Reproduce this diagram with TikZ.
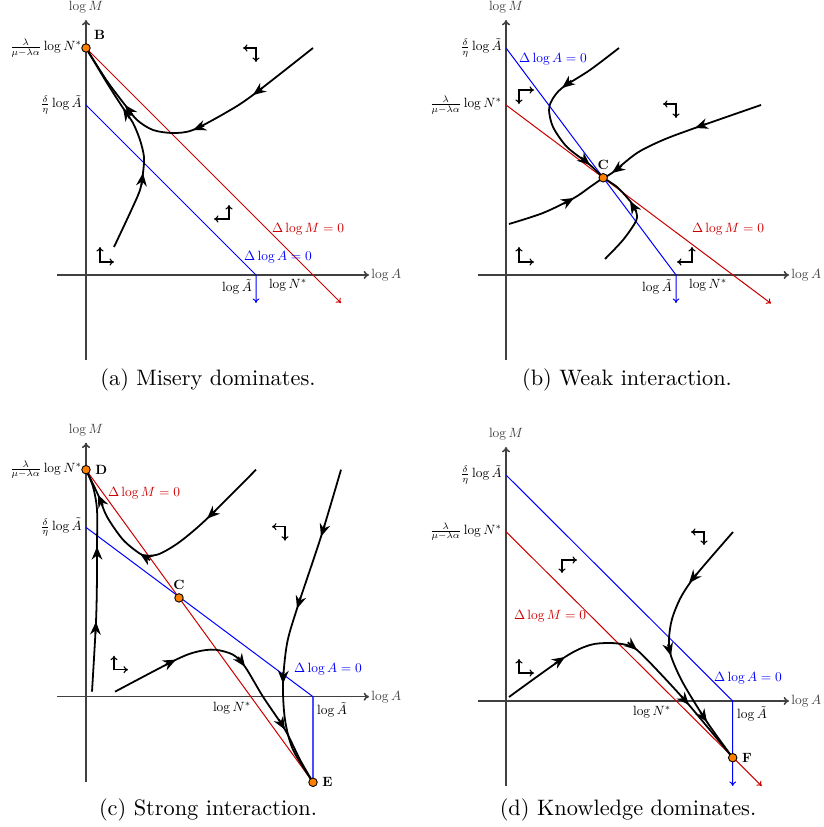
\documentclass[tikz,border=0pt]{standalone}
\usepackage{amsmath}
\usetikzlibrary{arrows.meta,positioning}

\begin{document}
\begin{tikzpicture}[x=0.4476pt, y=0.4476pt, >=Latex]

\tikzset{
  axis/.style={-{To[length=2.4pt,width=3.6pt]}, line width=0.7pt, black!75},
  nullM/.style={red!80!black, line width=0.45pt},
  nullA/.style={blue, line width=0.45pt},
  endtip/.style={-{To[length=2pt,width=3pt]}},
  traj/.style={line width=0.8pt, black},
  flowtip/.style={-{Stealth[length=5.8pt,width=4.8pt,inset=1.9pt]}, line width=0.8pt},
  dirmark/.style={{To[length=2pt,width=3.2pt]}-{To[length=2pt,width=3.2pt]}, line width=0.5pt},
  eqpt/.style={circle, draw=black, fill=orange, line width=0.4pt, inner sep=0pt, minimum size=3.8pt},
  lbl/.style={font=\normalsize, scale=0.6, inner sep=1.5pt},
  ptlbl/.style={font=\normalsize\bfseries, scale=0.6, inner sep=0pt},
  subcap/.style={font=\normalsize, inner sep=0pt}
}

\useasboundingbox (0,0) rectangle (823,827);

% =========================================================
% (a) Misery dominates
% =========================================================
\begin{scope}[shift={(86,552)}]
  \coordinate (B) at (0,227);
  \draw[axis] (-29,0) -- (283,0) node[lbl, anchor=west] (xa) {$\log A$};
  \draw[axis] (0,-85) -- (0,255) node[lbl, above=2pt] (ya) {$\log M$};

  \draw[nullM, endtip] (B) -- (255,-28);
  \draw[nullA, endtip] (0,170) -- (170,0) -- (170,-28);

  \node[lbl, anchor=east] (na) at (-2,227) {$\frac{\lambda}{\mu-\lambda\alpha}\log N^*$};
  \node[lbl, anchor=east] (ta) at (-2,170) {$\frac{\delta}{\eta}\log\tilde{A}$};
  \node[lbl] (tla) at (151,-12) {$\log\tilde{A}$};
  \node[lbl] (nla) at (202,-10) {$\log N^*$};
  \node[lbl, text=red!80!black] (ma) at (222,46) {$\Delta\log M=0$};
  \node[lbl, text=blue] (aa) at (192,18) {$\Delta\log A=0$};

  \draw[traj] plot[smooth] coordinates
    {(227,227) (167,180) (141,163) (107,145) (87,142) (67,145) (51,155) (39,170) (21,194) (B)};
  \draw[flowtip] ([shift={(36.6:12)}]167,180) -- (167,180);
  \draw[flowtip] ([shift={(21.3:12)}]107,145) -- (107,145);
  \draw[flowtip] ([shift={(-52.4:12)}]39,170) -- (39,170);

  \draw[traj] plot[smooth] coordinates
    {(28,28) (44,62) (54,85) (57,102) (58,118) (54,135) (47,152) (37,167) (21,192) (B)};
  \draw[flowtip] ([shift={(263.1:12)}]57,102) -- (57,102);
  \draw[flowtip] ([shift={(303:12)}]37,167) -- (37,167);

  \draw[dirmark] (157,227) -- (170,227) -- (170,213);
  \draw[dirmark] (128,56) -- (143,56) -- (143,70);
  \draw[dirmark] (14,28) -- (14,13) -- (28,13);

  \node[eqpt] (Bpt) at (B) {};
  \node[ptlbl, above right=2pt and 2pt of Bpt] (Blbl) {B};
\end{scope}

% =========================================================
% (b) Weak interaction
% =========================================================
\begin{scope}[shift={(506,552)}]
  \coordinate (C1) at (97.2,97.2);
  \draw[axis] (-28,0) -- (283,0) node[lbl, anchor=west] (xb) {$\log A$};
  \draw[axis] (0,-85) -- (0,255) node[lbl, above=2pt] (yb) {$\log M$};

  \draw[nullM, endtip] (0,170) -- (265,-28.5);
  \draw[nullA, endtip] (0,227) -- (170,0) -- (170,-28);

  \node[lbl, anchor=east] (tb) at (-2,227) {$\frac{\delta}{\eta}\log\tilde{A}$};
  \node[lbl, anchor=east] (nb) at (-2,170) {$\frac{\lambda}{\mu-\lambda\alpha}\log N^*$};
  \node[lbl] (tlb) at (151,-12) {$\log\tilde{A}$};
  \node[lbl] (nlb) at (202,-10) {$\log N^*$};
  \node[lbl, text=red!80!black] (mb) at (222,46) {$\Delta\log M=0$};
  \node[lbl, text=blue] (ab) at (47,216) {$\Delta\log A=0$};

  \draw[traj] plot[smooth] coordinates
    {(113,227) (84,205) (56,187) (46,175) (43,165) (47,148) (61,128) (84,110) (C1)};
  \draw[flowtip] ([shift={(38.3:12)}]56,187) -- (56,187);
  \draw[flowtip] ([shift={(139.6:12)}]84,110) -- (84,110);

  \draw[traj] plot[smooth] coordinates
    {(255,170) (189,147) (157,135) (131,122) (106,102) (C1)};
  \draw[flowtip] ([shift={(19.7:12)}]189,147) -- (189,147);
  \draw[flowtip] ([shift={(36.3:12)}]106,102) -- (106,102);

  \draw[traj] plot[smooth] coordinates
    {(3,51) (37,62) (68,77) (84,88) (C1)};
  \draw[flowtip] ([shift={(209:12)}]68,77) -- (68,77);

  \draw[traj] plot[smooth] coordinates
    {(99,16) (117,35) (130,54) (130,64) (124,74) (111,88) (C1)};
  \draw[flowtip] ([shift={(300:12)}]124,74) -- (124,74);

  \draw[dirmark] (13,171) -- (13,185) -- (28,185);
  \draw[dirmark] (157,171) -- (170,171) -- (170,157);
  \draw[dirmark] (13,28) -- (13,13) -- (28,13);
  \draw[dirmark] (171,13) -- (186,13) -- (186,28);

  \node[eqpt] (Cpt1) at (C1) {};
  \node[ptlbl, above=1.5pt of Cpt1] (Clbl1) {C};
\end{scope}

% =========================================================
% (c) Strong interaction
% =========================================================
\begin{scope}[shift={(86,130.3)}]
  \coordinate (D) at (0,227);
  \coordinate (E) at (227,-85.6);
  \coordinate (C2) at (93,98.8);
  \draw[axis] (-29,0) -- (283,0) node[lbl, anchor=west] (xc) {$\log A$};
  \draw[axis] (0,-85) -- (0,254) node[lbl, above=2pt] (yc) {$\log M$};

  \draw[nullM] (D) -- (E);
  \draw[nullA] (0,169.3) -- (227,0);
  \draw[blue!70, line width=0.8pt] (227,0) -- (E);

  \node[lbl, anchor=east] (nc) at (-2,227) {$\frac{\lambda}{\mu-\lambda\alpha}\log N^*$};
  \node[lbl, anchor=east] (tc) at (-2,169.3) {$\frac{\delta}{\eta}\log\tilde{A}$};
  \node[lbl] (nlc) at (146,-11) {$\log N^*$};
  \node[lbl] (tlc) at (246,-13) {$\log\tilde{A}$};
  \node[lbl, text=red!80!black] (mc) at (58,204) {$\Delta\log M=0$};
  \node[lbl, text=blue] (ac) at (242,28) {$\Delta\log A=0$};

  \draw[traj] plot[smooth] coordinates
    {(170,227) (121,178) (94,155) (74,143) (62,141) (54,143) (37,157) (21,180) (12,202) (D)};
  \draw[flowtip] ([shift={(43.5:12)}]121,178) -- (121,178);
  \draw[flowtip] ([shift={(327.4:12)}]54,143) -- (54,143);
  \draw[flowtip] ([shift={(294.1:12)}]12,202) -- (12,202);

  \draw[traj] plot[smooth] coordinates
    {(6,5) (10,75) (11,120) (11,150) (11,187) (7,210) (D)};
  \draw[flowtip] ([shift={(267.5:12)}]10,75) -- (10,75);
  \draw[flowtip] ([shift={(270:12)}]11,150) -- (11,150);

  \draw[traj] plot[smooth] coordinates
    {(29,5) (90,37) (111,45) (129,47) (147,42) (159,30) (177,0) (199,-33) (214,-63) (E)};
  \draw[flowtip] ([shift={(206:12)}]90,37) -- (90,37);
  \draw[flowtip] ([shift={(125.5:12)}]159,30) -- (159,30);
  \draw[flowtip] ([shift={(120.4:12)}]199,-33) -- (199,-33);

  \draw[traj] plot[smooth] coordinates
    {(255,227) (235,160) (211,88) (201,53) (197,13) (199,-23) (207,-53) (E)};
  \draw[flowtip] ([shift={(72.4:12)}]235,160) -- (235,160);
  \draw[flowtip] ([shift={(72.4:12)}]211,88) -- (211,88);
  \draw[flowtip] ([shift={(88.5:12)}]197,13) -- (197,13);

  \draw[dirmark] (186,170) -- (199,170) -- (199,156);
  \draw[dirmark] (28,41) -- (28,27) -- (42,27);

  \node[eqpt] (Dpt) at (D) {};
  \node[eqpt] (Cpt2) at (C2) {};
  \node[eqpt] (Ept) at (E) {};
  \node[ptlbl, right=2pt of Dpt] (Dlbl) {D};
  \node[ptlbl, above=1.5pt of Cpt2] (Clbl2) {C};
  \node[ptlbl, right=2pt of Ept] (Elbl) {E};
\end{scope}

% =========================================================
% (d) Knowledge dominates
% =========================================================
\begin{scope}[shift={(506,126)}]
  \coordinate (F) at (226.7,-56.7);
  \draw[axis] (-28,0) -- (283,0) node[lbl, anchor=west] (xd) {$\log A$};
  \draw[axis] (0,-85) -- (0,254) node[lbl, above=2pt] (yd) {$\log M$};

  \draw[nullM, endtip] (0,169.3) -- (255.7,-85);
  \draw[nullA, endtip] (0,226) -- (226.7,0) -- (226.7,-85);

  \node[lbl, anchor=east] (td) at (-2,226) {$\frac{\delta}{\eta}\log\tilde{A}$};
  \node[lbl, anchor=east] (nd) at (-2,169.3) {$\frac{\lambda}{\mu-\lambda\alpha}\log N^*$};
  \node[lbl] (nld) at (146,-11) {$\log N^*$};
  \node[lbl] (tld) at (246,-13) {$\log\tilde{A}$};
  \node[lbl, text=red!80!black] (md) at (44,85) {$\Delta\log M=0$};
  \node[lbl, text=blue] (ad) at (242,23) {$\Delta\log A=0$};

  \draw[traj] plot[smooth] coordinates
    {(227,169) (190,126) (175,104) (166,82) (163,62) (165,45) (177,18) (201,-21) (F)};
  \draw[flowtip] ([shift={(50:12)}]183,118) -- (183,118);
  \draw[flowtip] ([shift={(105:12)}]165,45) -- (165,45);
  \draw[flowtip] ([shift={(123.6:12)}]201,-21) -- (201,-21);

  \draw[traj] plot[smooth] coordinates
    {(3,4) (59,44) (84,56) (104,58) (121,56) (131,51) (151,31) (183,-4) (F)};
  \draw[flowtip] ([shift={(212.7:12)}]59,44) -- (59,44);
  \draw[flowtip] ([shift={(140.2:12)}]131,51) -- (131,51);
  \draw[flowtip] ([shift={(130.8:12)}]183,-4) -- (183,-4);

  \draw[dirmark] (185,169) -- (198,169) -- (198,156);
  \draw[dirmark] (56,128) -- (56,141) -- (71,141);
  \draw[dirmark] (13,42) -- (13,28) -- (28,28);

  \node[eqpt] (Fpt) at (F) {};
  \node[ptlbl, right=2pt of Fpt] (Flbl) {F};
\end{scope}

% =========================================================
% Captions
% =========================================================
\node[subcap] (capA) at (208,447) {(a)~Misery dominates.};
\node[subcap] (capB) at (627,447) {(b)~Weak interaction.};
\node[subcap] (capC) at (208,17) {(c)~Strong interaction.};
\node[subcap] (capD) at (628,17) {(d)~Knowledge dominates.};

\end{tikzpicture}
\end{document}
